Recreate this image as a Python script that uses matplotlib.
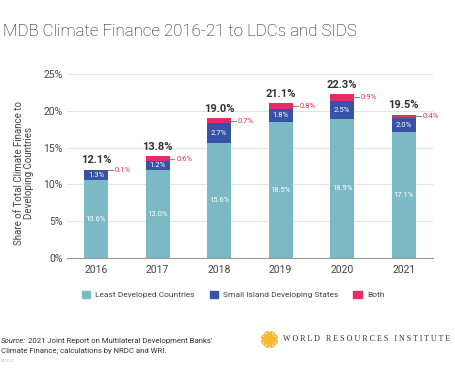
import numpy as np
import matplotlib
matplotlib.use('Agg')
import matplotlib.pyplot as plt
from matplotlib.patches import Patch

plt.rcParams['font.family'] = ['Roboto', 'DejaVu Sans']

years = ['2016', '2017', '2018', '2019', '2020', '2021']
ldc = [10.6, 12.0, 15.6, 18.5, 18.9, 17.1]
sids = [1.3, 1.2, 2.7, 1.8, 2.5, 2.0]
both = [0.1, 0.6, 0.7, 0.8, 0.9, 0.4]
totals = [12.1, 13.8, 19.0, 21.1, 22.3, 19.5]
yticks = [0, 5, 10, 15, 20, 25]

C_LDC = '#7bb9c4'
C_SIDS = '#3653a5'
C_BOTH = '#ea2a62'

W, H = 455, 383
fig = plt.figure(figsize=(W / 100, H / 100), dpi=100)
fig.patch.set_facecolor('white')

def px(x, y):
    return x / W, 1 - y / H

ax = fig.add_axes([66.7 / W, 1 - 257.7 / H, (433 - 66.7) / W, (257.7 - 74.3) / H])
x = np.arange(len(years))
bw = 0.39
ldc_a = np.array(ldc)
sids_a = np.array(sids)
both_a = np.array(both)
ax.bar(x, ldc_a, bw, color=C_LDC, zorder=3)
ax.bar(x, sids_a, bw, bottom=ldc_a, color=C_SIDS, zorder=3)
ax.bar(x, both_a, bw, bottom=ldc_a + sids_a, color=C_BOTH, zorder=3)

ax.set_xlim(-0.476, 5.476)
ax.set_ylim(0, 25)
ax.set_yticks(yticks)
ax.set_yticklabels([f'{v}%' for v in yticks])
ax.set_xticks(x)
ax.set_xticklabels(years)
ax.tick_params(axis='both', length=0, labelsize=7.5, colors='#444444')
ax.tick_params(axis='y', pad=3)
ax.tick_params(axis='x', pad=5)
for s in ['top', 'right', 'left']:
    ax.spines[s].set_visible(False)
ax.spines['bottom'].set_color('#999999')
ax.spines['bottom'].set_linewidth(0.8)
ax.grid(axis='y', color='#e3e3e3', linewidth=0.8, zorder=0)

for i in x:
    ax.text(i, ldc_a[i] / 2, f'{ldc[i]:.1f}%', ha='center', va='center',
            color='white', fontsize=5.5, zorder=4)
    ax.text(i, ldc_a[i] + sids_a[i] / 2, f'{sids[i]:.1f}%', ha='center', va='center',
            color='white', fontsize=5.5, zorder=4)
    top = ldc_a[i] + sids_a[i] + both_a[i]
    ax.text(i, top + 0.6, f'{totals[i]:.1f}%', ha='center', va='bottom',
            color='#333333', fontsize=8, fontweight='bold', zorder=4)
    ym = ldc_a[i] + sids_a[i] + both_a[i] / 2
    ax.plot([i + bw / 2, i + bw / 2 + 0.08], [ym, ym], color='#888888', lw=0.8, zorder=4)
    ax.text(i + bw / 2 + 0.11, ym, f'{both[i]:.1f}%', ha='left', va='center',
            color=C_BOTH, fontsize=5.5, zorder=4)

fig.text(*px(24, 173), 'Share of Total Climate Finance to\nDeveloping Countries',
         rotation=90, ha='center', va='center', fontsize=7, color='#444444',
         linespacing=1.1)

fig.text(*px(3, 32), 'MDB Climate Finance 2016-21 to LDCs and SIDS',
         ha='left', va='center', fontsize=12.2, color='#111111', fontweight='light')

handles = [Patch(color=C_LDC, label='Least Developed Countries'),
           Patch(color=C_SIDS, label='Small Island Developing States'),
           Patch(color=C_BOTH, label='Both')]
fig.legend(handles=handles, loc='center', bbox_to_anchor=px(233, 294.7), ncol=3,
           frameon=False, fontsize=6, handlelength=1.0, handleheight=1.0,
           handletextpad=0.6, columnspacing=1.8, labelcolor='#444444')

fig.text(*px(1, 341), 'Source:', style='italic', ha='left', va='center',
         fontsize=5.6, color='#333333')
fig.text(*px(28, 341), "2021 Joint Report on Multilateral Development Banks'",
         ha='left', va='center', fontsize=5.6, color='#333333')
fig.text(*px(1, 351), 'Climate Finance; calculations by NRDC and WRI.',
         ha='left', va='center', fontsize=5.6, color='#333333')
fig.text(*px(1, 361), '22.10.27', ha='left', va='center', fontsize=2.5, color='#aaaaaa')

# WRI logo: diamond cluster of yellow rings
lax = fig.add_axes([261 / W, 1 - 348 / H, 17 / W, 17 / H])
lax.set_xlim(-3.2, 3.2)
lax.set_ylim(-3.2, 3.2)
lax.axis('off')
pts = [(i, j) for i in range(-3, 4) for j in range(-3, 4) if abs(i) + abs(j) <= 3 and (i + j) % 2 == 1]
pts += [(i, j) for i in range(-2, 3) for j in range(-2, 3) if abs(i) + abs(j) <= 2 and (i + j) % 2 == 0]
px_, py_ = zip(*pts)
lax.scatter(px_, py_, s=9, facecolors='none', edgecolors='#f5b82e', linewidths=0.9)

fig.text(*px(283, 339), 'W O R L D   R E S O U R C E S   I N S T I T U T E',
         ha='left', va='center', fontsize=5.75, family='Liberation Serif', color='#333333')

fig.savefig('out.png', dpi=100, facecolor='white')
